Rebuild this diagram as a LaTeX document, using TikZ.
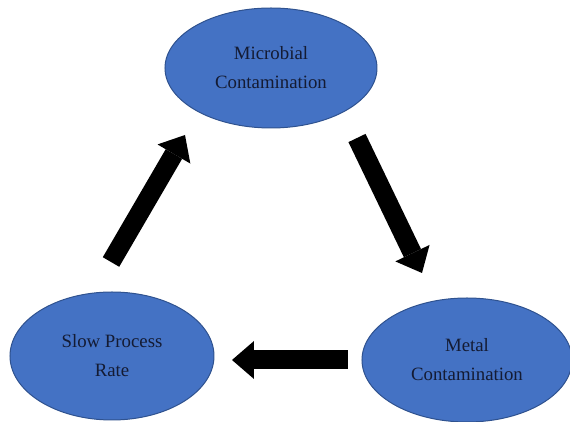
\documentclass[tikz,border=0pt]{standalone}
\usepackage{fontspec}
\setmainfont{Liberation Serif}
\usetikzlibrary{shapes.geometric,arrows.meta}
\definecolor{cellblue}{HTML}{4472C4}
\definecolor{cellrim}{HTML}{2F528F}
\definecolor{celltext}{HTML}{141B33}
\tikzset{
  cycle cell/.style={
    ellipse,
    fill=cellblue,
    draw=cellrim,
    line width=0.5pt,
    inner sep=0pt,
    minimum width={#1},
    text=celltext,
    align=center,
    font=\fontsize{9.4}{14.5}\selectfont,
  },
  block arrow/.style={
    line width=9.5pt,
    -{Triangle[width=19pt,length=11pt,line width=0pt]},
  }
}

\begin{document}
\begin{tikzpicture}[x=0.5pt,y=-0.5pt]
        \useasboundingbox (0,0) rectangle (570,422);

        \node [cycle cell=106pt, minimum height=60pt] (micro) at (271,68) {Microbial\\Contamination};
        \node [cycle cell=105pt, minimum height=62pt] (metal) at (467,360) {Metal\\Contamination};
        \node [cycle cell=102pt, minimum height=64pt] (slow) at (112,356) {Slow Process\\Rate};

        \coordinate (micro out) at (357,138);
        \coordinate (metal in) at (422,273);
        \coordinate (metal out) at (348,360);
        \coordinate (slow in) at (232,360);
        \coordinate (slow out) at (111,262);
        \coordinate (micro in) at (185,135);

        \draw [block arrow] (micro out) -- (metal in);
        \draw [block arrow] (metal out) -- (slow in);
        \draw [block arrow] (slow out) -- (micro in);
      \end{tikzpicture}
\end{document}
